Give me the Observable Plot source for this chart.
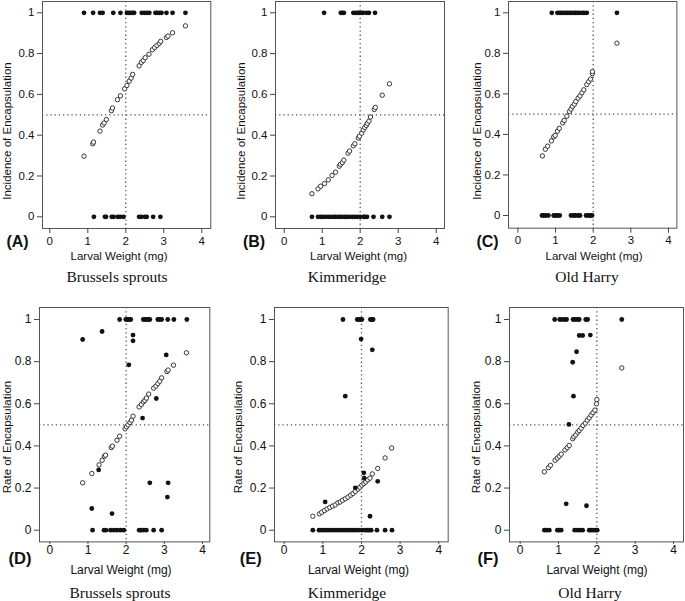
<!DOCTYPE html>
<html><head><meta charset="utf-8">
<script src="https://cdn.jsdelivr.net/npm/d3@7"></script>
<script src="https://cdn.jsdelivr.net/npm/@observablehq/plot@0.6"></script>
<style>
body{margin:0;background:#fff;}
#page{position:relative;width:685px;height:601px;overflow:hidden;font-family:"Liberation Sans",Arial,sans-serif;color:#111;}
#page svg{position:absolute;}
.t{position:absolute;white-space:nowrap;line-height:1;transform:translate(-50%,-50%);}
.yl{transform:translate(-50%,-50%) rotate(-90deg);}
.tag{font-weight:bold;}
.site{font-family:"Liberation Serif","Times New Roman",serif;}
</style></head>
<body><div id="page"></div>
<script>
// ---------- data ----------
const xTicks = [0, 1, 2, 3, 4];
const yTicks = [0, 0.2, 0.4, 0.6, 0.8, 1];
const siteNames = ["Brussels sprouts", "Kimmeridge", "Old Harry"];
const panelTags = ["(A)", "(B)", "(C)", "(D)", "(E)", "(F)"];
const yLabels = ["Incidence of Encapsulation", "Rate of Encapsulation"];
const xLabel = "Larval Weight (mg)";

// observed (filled) and fitted (open) points: [weight, value]
const obsA = [[0.90,1],[1.14,1],[1.32,1],[1.39,1],[1.67,1],[1.86,1],[2.03,1],[2.08,1],[2.13,1],[2.18,1],[2.22,1],[2.42,1],[2.49,1],[2.56,1],[2.62,1],[2.78,1],[2.83,1],[2.89,1],[2.94,1],[3.07,1],[3.23,1],[3.57,1],
  [1.16,0],[1.45,0],[1.48,0],[1.63,0],[1.68,0],[1.79,0],[1.85,0],[1.94,0],[2.35,0],[2.41,0],[2.50,0],[2.55,0],[2.72,0],[2.91,0]];
const fitA = [[0.90,0.297],[1.13,0.358],[1.15,0.366],[1.32,0.42],[1.39,0.45],[1.43,0.46],[1.49,0.477],[1.62,0.52],[1.65,0.533],[1.78,0.574],[1.86,0.593],[1.97,0.627],[2.03,0.644],[2.09,0.665],[2.14,0.68],[2.18,0.698],[2.35,0.74],[2.41,0.757],[2.46,0.766],[2.51,0.78],[2.61,0.797],[2.70,0.819],[2.76,0.83],[2.82,0.84],[2.88,0.85],[2.92,0.86],[3.07,0.879],[3.11,0.886],[3.23,0.902],[3.57,0.936]];

const obsB = [[1.05,1],[1.49,1],[1.53,1],[1.57,1],[1.82,1],[1.88,1],[1.93,1],[1.98,1],[2.04,1],[2.08,1],[2.17,1],[2.23,1],[2.39,1],
  [0.73,0],[0.89,0],[0.96,0],[1.02,0],[1.09,0],[1.16,0],[1.23,0],[1.30,0],[1.35,0],[1.42,0],[1.47,0],[1.53,0],[1.59,0],[1.65,0],[1.72,0],[1.79,0],[1.86,0],[1.93,0],[2.00,0],[2.09,0],[2.12,0],[2.18,0],[2.35,0],[2.58,0],[2.77,0]];
const fitB = [[0.73,0.113],[0.89,0.137],[0.96,0.150],[1.06,0.163],[1.16,0.181],[1.26,0.203],[1.35,0.219],[1.45,0.248],[1.48,0.257],[1.53,0.266],[1.57,0.278],[1.68,0.312],[1.72,0.322],[1.82,0.348],[1.86,0.358],[1.95,0.386],[1.98,0.395],[2.04,0.41],[2.08,0.426],[2.12,0.438],[2.16,0.448],[2.19,0.458],[2.23,0.469],[2.27,0.489],[2.37,0.526],[2.40,0.536],[2.58,0.596],[2.77,0.652]];

const obsC = [[0.90,1],[1.05,1],[1.11,1],[1.16,1],[1.21,1],[1.27,1],[1.32,1],[1.37,1],[1.42,1],[1.48,1],[1.53,1],[1.58,1],[1.64,1],[1.71,1],[1.76,1],[1.83,1],[2.63,1],
  [0.64,0],[0.69,0],[0.74,0],[0.81,0],[0.95,0],[1.00,0],[1.05,0],[1.11,0],[1.41,0],[1.48,0],[1.53,0],[1.60,0],[1.65,0],[1.81,0],[1.87,0],[1.92,0],[1.97,0]];
const fitC = [[0.65,0.294],[0.73,0.327],[0.79,0.342],[0.89,0.368],[0.95,0.388],[0.99,0.395],[1.05,0.416],[1.10,0.43],[1.19,0.457],[1.23,0.469],[1.30,0.49],[1.37,0.513],[1.41,0.525],[1.45,0.538],[1.50,0.549],[1.54,0.562],[1.60,0.579],[1.65,0.59],[1.70,0.605],[1.75,0.62],[1.83,0.646],[1.88,0.66],[1.93,0.673],[1.98,0.70],[1.98,0.71],[2.63,0.85]];

const obsD = [[1.83,1],[1.99,1],[2.03,1],[2.08,1],[2.12,1],[2.45,1],[2.49,1],[2.53,1],[2.58,1],[2.62,1],[2.83,1],[2.88,1],[2.93,1],[3.09,1],[3.25,1],[3.59,1],
  [0.86,0.905],[1.37,0.943],[2.18,0.926],[2.18,0.899],[3.05,0.832],[2.07,0.785],[2.79,0.625],[2.43,0.532],[1.28,0.286],[2.62,0.225],[3.10,0.225],[3.08,0.157],[1.10,0.103],[1.63,0.079],
  [1.12,0],[1.42,0],[1.47,0],[1.59,0],[1.68,0],[1.76,0],[1.85,0],[1.94,0],[2.34,0],[2.39,0],[2.46,0],[2.53,0],[2.72,0],[2.93,0]];
const fitD = [[0.86,0.225],[1.10,0.269],[1.29,0.31],[1.37,0.332],[1.43,0.351],[1.46,0.356],[1.61,0.392],[1.64,0.399],[1.76,0.427],[1.83,0.446],[1.97,0.481],[2.01,0.491],[2.05,0.50],[2.10,0.511],[2.14,0.522],[2.18,0.541],[2.34,0.585],[2.40,0.597],[2.45,0.609],[2.49,0.616],[2.53,0.627],[2.59,0.646],[2.72,0.674],[2.78,0.684],[2.83,0.696],[2.88,0.707],[2.93,0.723],[3.07,0.753],[3.10,0.76],[3.24,0.783],[3.58,0.842]];

const obsE = [[1.52,1],[1.89,1],[1.93,1],[1.97,1],[2.01,1],[2.23,1],[2.27,1],[2.30,1],
  [1.99,0.907],[2.28,0.856],[1.58,0.636],[2.06,0.272],[2.07,0.247],[1.84,0.201],[2.42,0.232],[1.06,0.134],[2.22,0.066],
  [0.74,0],[0.90,0],[0.96,0],[1.03,0],[1.09,0],[1.16,0],[1.23,0],[1.30,0],[1.37,0],[1.44,0],[1.51,0],[1.58,0],[1.65,0],[1.72,0],[1.78,0],[1.85,0],[1.92,0],[2.01,0],[2.09,0],[2.15,0],[2.20,0],[2.25,0],[2.40,0],[2.61,0],[2.79,0]];
const fitE = [[0.74,0.066],[0.91,0.077],[0.97,0.085],[1.04,0.093],[1.11,0.101],[1.18,0.108],[1.25,0.114],[1.32,0.120],[1.39,0.13],[1.45,0.134],[1.51,0.142],[1.58,0.149],[1.65,0.157],[1.72,0.166],[1.78,0.174],[1.84,0.184],[1.91,0.195],[1.96,0.204],[2.01,0.214],[2.06,0.222],[2.11,0.229],[2.16,0.239],[2.22,0.247],[2.28,0.267],[2.42,0.293],[2.61,0.343],[2.78,0.39]];

const obsF = [[0.90,1],[1.03,1],[1.09,1],[1.16,1],[1.21,1],[1.38,1],[1.43,1],[1.49,1],[1.54,1],[1.71,1],[1.76,1],[2.65,1],
  [1.54,0.924],[1.63,0.924],[1.83,0.926],[1.47,0.847],[1.37,0.797],[1.39,0.636],[1.27,0.502],[1.20,0.125],[1.73,0.116],
  [0.63,0],[0.69,0],[0.76,0],[0.97,0],[1.02,0],[1.07,0],[1.42,0],[1.50,0],[1.56,0],[1.63,0],[1.80,0],[1.85,0],[1.90,0],[1.96,0],[2.01,0]];
const fitF = [[0.63,0.277],[0.74,0.297],[0.79,0.308],[0.91,0.332],[0.97,0.342],[1.02,0.351],[1.07,0.361],[1.17,0.381],[1.23,0.392],[1.28,0.402],[1.37,0.434],[1.40,0.443],[1.45,0.452],[1.50,0.465],[1.54,0.473],[1.59,0.484],[1.64,0.497],[1.70,0.508],[1.75,0.522],[1.80,0.533],[1.85,0.546],[1.90,0.558],[1.95,0.570],[1.99,0.600],[2.00,0.620],[2.65,0.77]];

// ---------- layout (page pixels) ----------
const panels = [
  {obs: obsA, fit: fitA, row: 0, col: 0, L: 41.7, R: 210, T: 1, B: 228, x0: 49, x4: 201, y0: 216.3, y1: 12.3, yl: [8, 131], tag: [17.5, 242], xl: [119, 257], st: [117, 277]},
  {obs: obsB, fit: fitB, row: 0, col: 1, L: 275, R: 444, T: 1, B: 228, x0: 283.7, x4: 435.7, y0: 216.3, y1: 12.3, yl: [241.7, 131], tag: [254, 242], xl: [358.5, 257], st: [347, 277]},
  {obs: obsC, fit: fitC, row: 0, col: 2, L: 508.3, R: 676.7, T: 1, B: 227.7, x0: 517.7, x4: 668.3, y0: 215, y1: 12.3, yl: [478, 131], tag: [487.5, 242], xl: [594, 257], st: [587, 277]},
  {obs: obsD, fit: fitD, row: 1, col: 0, L: 38.7, R: 209, T: 307.3, B: 541.7, x0: 49, x4: 201.7, y0: 530, y1: 319.3, yl: [7.5, 437], tag: [20, 558], xl: [121, 570], st: [120, 593]},
  {obs: obsE, fit: fitE, row: 1, col: 1, L: 274, R: 447.7, T: 307.3, B: 541.7, x0: 283.7, x4: 438.3, y0: 530, y1: 319.3, yl: [239, 437], tag: [250.7, 558], xl: [358.5, 570], st: [347, 593]},
  {obs: obsF, fit: fitF, row: 1, col: 2, L: 509.3, R: 683.3, T: 307.3, B: 541.7, x0: 520, x4: 673.3, y0: 530, y1: 319.3, yl: [476.7, 437], tag: [488, 558], xl: [597, 570], st: [590, 593]}
];

const page = document.getElementById("page");
function addText(txt, [x, y], cls, size) {
  const d = document.createElement("div");
  d.className = "t " + cls;
  d.textContent = txt;
  d.style.left = x + "px"; d.style.top = y + "px"; d.style.fontSize = size + "px";
  page.appendChild(d);
}

const dotted = {stroke: "#555", strokeWidth: 1.3, strokeDasharray: "1.3,2.9"};
panels.forEach((p, i) => {
  const mL = 50, mR = 4, mT = 4, mB = 30;
  const w = (p.R - p.L) + mL + mR, h = (p.B - p.T) + mT + mB;
  const xd = [4 * (p.L - p.x0) / (p.x4 - p.x0), 4 * (p.R - p.x0) / (p.x4 - p.x0)];
  const yd = [(p.y0 - p.B) / (p.y0 - p.y1), (p.y0 - p.T) / (p.y0 - p.y1)];
  const fs = p.row === 0 ? 11.5 : 12;
  const svg = Plot.plot({
    width: w, height: h, marginLeft: mL, marginRight: mR, marginTop: mT, marginBottom: mB,
    x: {domain: xd}, y: {domain: yd},
    style: {fontFamily: '"Liberation Sans", Arial, sans-serif', fontSize: fs + "px", color: "#111", background: "transparent", overflow: "visible"},
    marks: [
      Plot.ruleX([2], dotted),
      Plot.ruleY([0.5], dotted),
      Plot.dot(p.fit, {x: d => d[0], y: d => d[1], r: 2.2, stroke: "#222", strokeWidth: 0.9, fill: "white"}),
      Plot.dot(p.obs, {x: d => d[0], y: d => d[1], r: 2.4, fill: "#111", stroke: "none"}),
      Plot.frame({stroke: "#555", strokeWidth: 1}),
      Plot.axisX(xTicks, {tickSize: p.row === 0 ? 5 : 2.5, tickPadding: p.row === 0 ? 3 : 1, label: null, stroke: "#444", tickFormat: d => String(d)}),
      Plot.axisY(yTicks, {tickSize: 5, tickPadding: 3, label: null, stroke: "#444", tickFormat: d => String(d)})
    ]
  });
  svg.style.left = (p.L - mL) + "px";
  svg.style.top = (p.T - mT) + "px";
  page.appendChild(svg);
  addText(yLabels[p.row], p.yl, "yl", p.row === 0 ? 11.5 : 11.5);
  addText(panelTags[i], p.tag, "tag", p.row === 0 ? 16 : 16.5);
  addText(xLabel, p.xl, "xl", fs);
  addText(siteNames[p.col], p.st, "site", 15.5);
});
</script>
</body></html>
